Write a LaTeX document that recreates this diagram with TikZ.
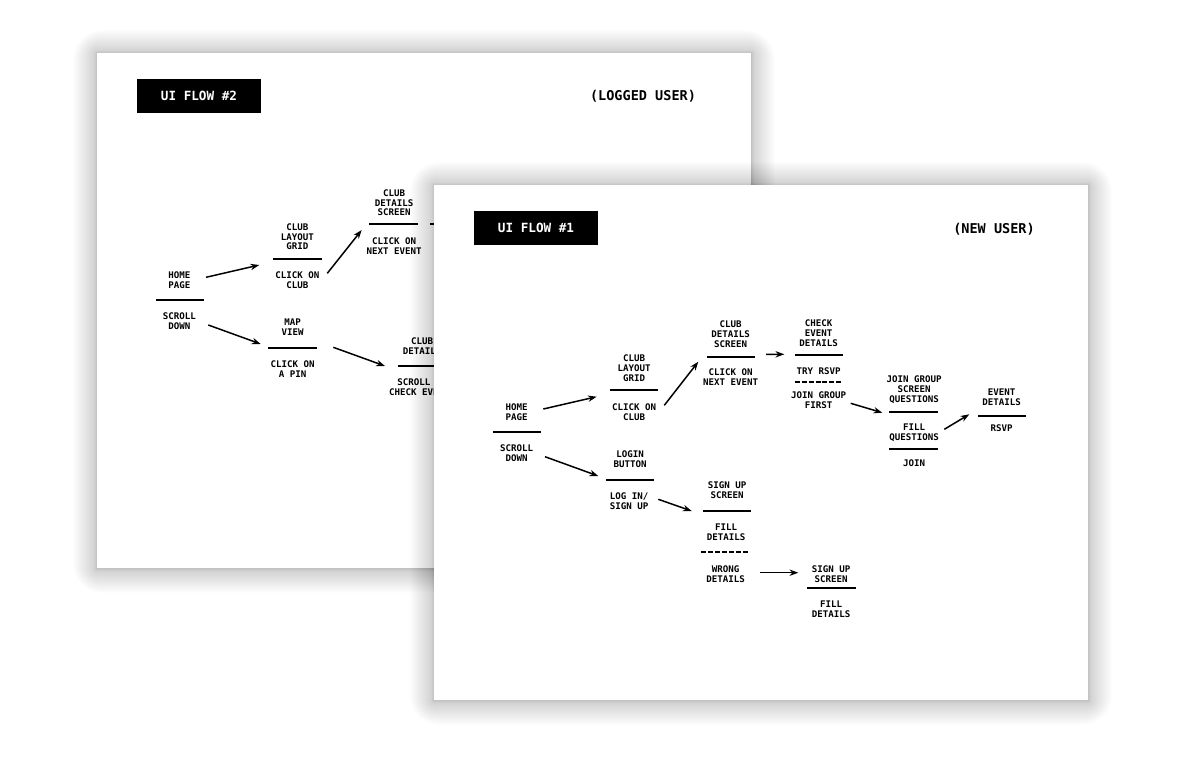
\documentclass[tikz,border=0pt]{standalone}
\usepackage{fontspec}
\setmonofont{DejaVu Sans Mono}
\usetikzlibrary{arrows.meta,calc}
\tikzset{
  haze/.style={fill=black, opacity=0.008},
  sheet/.style={fill=white},
  txt/.style={font=\ttfamily\bfseries\fontsize{5.2}{5.67}\selectfont, align=center, inner sep=0pt},
  bar/.style={fill=black, inner sep=0pt, minimum width=0.966cm, minimum height=1.1pt},
  dbar/.style={inner sep=0pt, minimum width=0.966cm, minimum height=1.1pt,
    path picture={\draw[line width=1.1pt, dash pattern=on 2.83pt off 1.13pt] (path picture bounding box.west) -- (path picture bounding box.east);}},
  flowtag/.style={fill=black, text=white, inner sep=0pt, minimum width=2.48cm, minimum height=0.68cm, font=\ttfamily\bfseries\fontsize{7.2}{8}\selectfont},
  usertag/.style={inner sep=0pt, font=\ttfamily\bfseries\fontsize{7.7}{9}\selectfont},
  link/.style={line width=0.85pt, -{Stealth[length=5pt,width=3.6pt]}}
}
\begin{document}
\begin{tikzpicture}[x=0.02cm, y=-0.02cm]
\fill[white] (0,0) rectangle (1200,768);
\useasboundingbox (0,0) rectangle (1200,768);

\foreach \i in {1,...,24}
  \fill[haze, rounded corners=\i*0.7pt] (97-\i,53-\i+1) rectangle (751+\i,568+\i+1);
\foreach \i in {1,...,6}
  \fill[haze] (97-\i/2,53-\i/2) rectangle (751+\i/2,568+\i/2);
\fill[sheet] (97,53) rectangle (751,568);
\node[flowtag] (b-tag) at (199,96) {UI FLOW \#2};
\node[usertag] (b-user) at (643,96) {(LOGGED USER)};

\node[txt] (b-home-t) at (179.3,280) {HOME\\PAGE};
\node[bar] (b-home-b) at (179.8,300) {};
\node[txt] (b-home-a) at (179.3,321) {SCROLL\\DOWN};
\node[txt] (b-grid-t) at (297.3,236.7) {CLUB\\LAYOUT\\GRID};
\node[bar] (b-grid-b) at (297.5,258.7) {};
\node[txt] (b-grid-a) at (297.3,280) {CLICK ON\\CLUB};
\node[txt] (b-club-t) at (394,202.7) {CLUB\\DETAILS\\SCREEN};
\node[bar] (b-club-b) at (393.5,224) {};
\node[txt] (b-club-a) at (394,245.7) {CLICK ON\\NEXT EVENT};
\node[txt] (b-map-t) at (292.7,326.7) {MAP\\VIEW};
\node[bar] (b-map-b) at (292.5,347.7) {};
\node[txt] (b-map-a) at (292.7,369) {CLICK ON\\A PIN};
\node[txt] (b-club2-t) at (422,345.7) {CLUB\\DETAILS};
\node[bar] (b-club2-b) at (422,366) {};
\node[txt] (b-club2-a) at (422,386.7) {SCROLL TO\\CHECK EVENTS};
\coordinate (b-next) at (470,224);

\draw[link] ($(b-home-t)+(26.7,-2.7)$) -- ($(b-grid-b)+(-38.2,6.3)$);
\draw[link] ($(b-grid-a)+(30,-6.7)$) -- ($(b-club-b)+(-31.8,6)$);
\draw[link] ($(b-home-a)+(29,4)$) -- ($(b-map-b)+(-31.8,-3.7)$);
\draw[link] ($(b-map-b)+(40.8,-0.4)$) -- ($(b-club2-b)+(-37,0)$);
\draw[link] ($(b-club-b)+(36.5,0)$) -- (b-next);

\foreach \i in {1,...,24}
  \fill[haze, rounded corners=\i*0.7pt] (434-\i,185-\i+1) rectangle (1088+\i,700+\i+1);
\foreach \i in {1,...,6}
  \fill[haze] (434-\i/2,185-\i/2) rectangle (1088+\i/2,700+\i/2);
\fill[sheet] (434,185) rectangle (1088,700);
\node[flowtag] (f-tag) at (536,228.3) {UI FLOW \#1};
\node[usertag] (f-user) at (994,229) {(NEW USER)};

\node[txt] (f-home-t) at (516.7,411.7) {HOME\\PAGE};
\node[bar] (f-home-b) at (516.8,432.3) {};
\node[txt] (f-home-a) at (516.7,452.7) {SCROLL\\DOWN};
\node[txt] (f-grid-t) at (634,368.3) {CLUB\\LAYOUT\\GRID};
\node[bar] (f-grid-b) at (634,390.3) {};
\node[txt] (f-grid-a) at (634,411.7) {CLICK ON\\CLUB};
\node[txt] (f-club-t) at (730.5,334) {CLUB\\DETAILS\\SCREEN};
\node[bar] (f-club-b) at (730.8,356.7) {};
\node[txt] (f-club-a) at (730.5,377.3) {CLICK ON\\NEXT EVENT};
\node[txt] (f-check-t) at (818.5,333.3) {CHECK\\EVENT\\DETAILS};
\node[bar] (f-check-b) at (818.8,355) {};
\node[txt] (f-check-a) at (818.5,371) {TRY RSVP};
\node[dbar] (f-check-d) at (818.8,381.7) {};
\node[txt] (f-check-c) at (818.5,400) {JOIN GROUP\\FIRST};
\node[txt] (f-login-t) at (630,459) {LOGIN\\BUTTON};
\node[bar] (f-login-b) at (629.8,480) {};
\node[txt] (f-login-a) at (629,501) {LOG IN/\\SIGN UP};
\node[txt] (f-sign-t) at (727,490) {SIGN UP\\SCREEN};
\node[bar] (f-sign-b) at (727.2,511) {};
\node[txt] (f-sign-a) at (726,532.3) {FILL\\DETAILS};
\node[dbar] (f-sign-d) at (725.3,552.3) {};
\node[txt] (f-sign-c) at (725.7,574) {WRONG\\DETAILS};
\node[txt] (f-sign2-t) at (831,574) {SIGN UP\\SCREEN};
\node[bar] (f-sign2-b) at (831.5,587.7) {};
\node[txt] (f-sign2-a) at (831,609) {FILL\\DETAILS};
\node[txt] (f-join-t) at (914,390) {JOIN GROUP\\SCREEN\\QUESTIONS};
\node[bar] (f-join-b) at (913.5,412.3) {};
\node[txt] (f-join-a) at (914,432.7) {FILL\\QUESTIONS};
\node[bar] (f-join-d) at (913.5,449.3) {};
\node[txt] (f-join-c) at (914,462.7) {JOIN};
\node[txt] (f-event-t) at (1001.7,397.7) {EVENT\\DETAILS};
\node[bar] (f-event-b) at (1001.8,415.7) {};
\node[txt] (f-event-a) at (1001.7,427.7) {RSVP};

\draw[link] ($(f-home-t)+(26.6,-2.7)$) -- ($(f-grid-b)+(-37.3,6.4)$);
\draw[link] ($(f-grid-a)+(30.3,-6.4)$) -- ($(f-club-b)+(-32.5,5)$);
\draw[link] ($(f-club-b)+(35.2,-2.4)$) -- ($(f-check-b)+(-34.5,-0.7)$);
\draw[link] ($(f-home-a)+(28.3,4)$) -- ($(f-login-b)+(-31.5,-4)$);
\draw[link] ($(f-login-a)+(29.3,-1.7)$) -- ($(f-sign-b)+(-35.5,0)$);
\draw[link] ($(f-sign-c)+(34.3,-1.3)$) -- ($(f-sign2-t)+(-32.7,-1.3)$);
\draw[link] ($(f-check-c)+(32.2,3.3)$) -- ($(f-join-b)+(-31.2,0.4)$);
\draw[link] ($(f-join-a)+(30.3,-3.4)$) -- ($(f-event-b)+(-32.5,-1.4)$);
\end{tikzpicture}
\end{document}
